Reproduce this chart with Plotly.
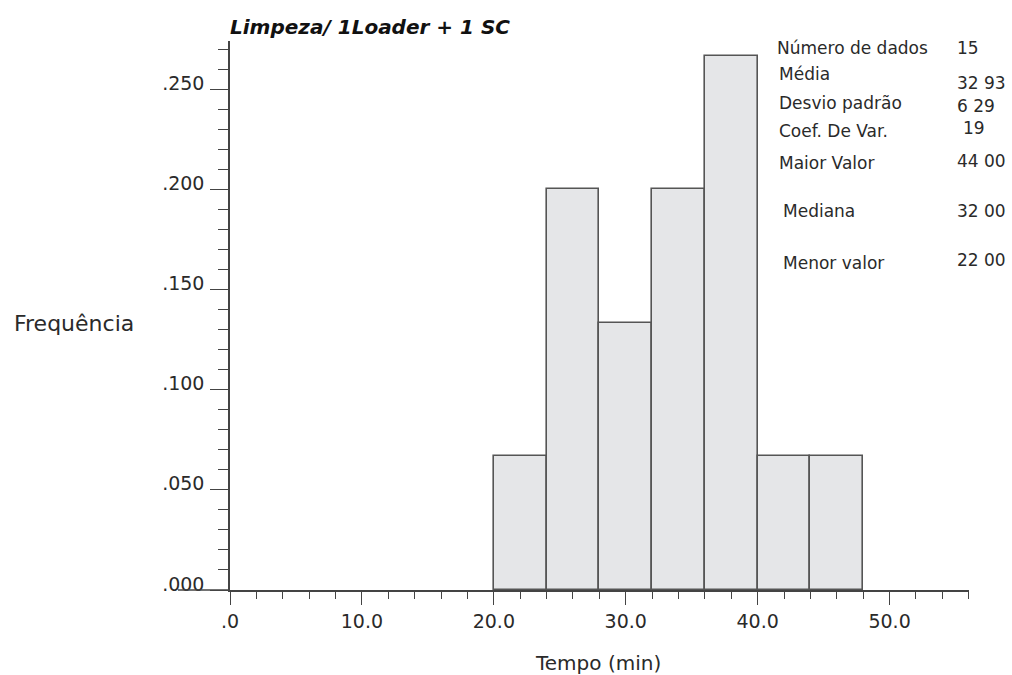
import plotly.graph_objects as go

# Data
bin_centers = [22, 26, 30, 34, 38, 42, 46]
bin_width = 4
frequencies = [0.0667, 0.2000, 0.1333, 0.2000, 0.2667, 0.0667, 0.0667]

x_tick_vals = [0, 10, 20, 30, 40, 50]
x_tick_text = [".0", "10.0", "20.0", "30.0", "40.0", "50.0"]
y_tick_vals = [0, 0.05, 0.10, 0.15, 0.20, 0.25]
y_tick_text = [".000", ".050", ".100", ".150", ".200", ".250"]

stat_labels = ["Número de dados", "Média", "Desvio padrão", "Coef. De Var.",
               "Maior Valor", "Mediana", "Menor valor"]
stat_values = ["15", "32 93", "6 29", "19", "44 00", "32 00", "22 00"]

title_text = "Limpeza/ 1Loader + 1 SC"
x_title = "Tempo (min)"
y_title = "Frequência"

# layout geometry (pixels)
W, H = 1012, 675
L, R, T, B = 230, 969, 41, 590


def xp(px):
    return (px - L) / (R - L)


def yp(py):
    return (B - py) / (B - T)


FONT = "DejaVu Sans, Verdana, sans-serif"
TXT = "#2a2a2a"
AX = "#444444"

fig = go.Figure()
fig.add_trace(go.Bar(
    x=bin_centers, y=frequencies, width=[bin_width] * len(bin_centers),
    marker=dict(color="#e5e6e8", line=dict(color="#555555", width=1.6)),
    showlegend=False, hoverinfo="x+y",
))

fig.update_layout(
    width=W, height=H,
    margin=dict(l=L, r=W - R, t=T, b=H - B, pad=0),
    paper_bgcolor="white", plot_bgcolor="white",
    font=dict(family=FONT, color=TXT, size=18),
    bargap=0,
    xaxis=dict(
        range=[0, 56.02], showgrid=False, zeroline=False,
        showline=True, linecolor=AX, linewidth=1.5,
        ticks="outside", ticklen=13, tickwidth=1.3, tickcolor=AX,
        tickvals=x_tick_vals, ticktext=x_tick_text,
        tickfont=dict(size=19, color=TXT),
        minor=dict(dtick=2, tick0=0, ticks="outside", ticklen=7,
                   tickwidth=1.3, tickcolor=AX, showgrid=False),
    ),
    yaxis=dict(
        range=[0, 0.274], showgrid=False, zeroline=False,
        showline=True, linecolor=AX, linewidth=1.5,
        ticks="outside", ticklen=18, tickwidth=1.3, tickcolor=AX,
        tickvals=y_tick_vals, ticktext=y_tick_text,
        tickfont=dict(size=19, color=TXT),
        ticklabelshift=-6, ticklabelstandoff=2,
        minor=dict(dtick=0.01, tick0=0, ticks="outside", ticklen=10,
                   tickwidth=1.3, tickcolor=AX, showgrid=False),
    ),
)

# x-axis line extends to the left of the y axis
fig.add_shape(type="line", xref="paper", yref="paper",
              x0=xp(178), x1=0, y0=0, y1=0,
              line=dict(color=AX, width=1.5))

ann = []
ann.append(dict(text="<b><i>" + title_text + "</i></b>", x=xp(228), y=yp(27),
                xanchor="left", yanchor="middle",
                font=dict(size=20, color="#111111")))
ann.append(dict(text=x_title, x=xp(598), y=yp(663), xanchor="center",
                yanchor="middle", font=dict(size=20)))
ann.append(dict(text=y_title, x=xp(12), y=yp(323), xanchor="left",
                yanchor="middle", font=dict(size=22)))

label_pos = [(775, 48), (777, 74), (777, 103), (777, 131), (777, 163),
             (781, 211), (781, 263)]
value_pos = [(955, 48), (955, 83), (955, 106), (961, 128), (955, 161),
             (955, 211), (955, 260)]
for lab, val, (lx, ly), (vx, vy) in zip(stat_labels, stat_values, label_pos, value_pos):
    ann.append(dict(text=lab, x=xp(lx), y=yp(ly), xanchor="left",
                    yanchor="middle", font=dict(size=17)))
    ann.append(dict(text=val, x=xp(vx), y=yp(vy), xanchor="left",
                    yanchor="middle", font=dict(size=17)))

for a in ann:
    a.update(xref="paper", yref="paper", showarrow=False)
fig.update_layout(annotations=ann)

fig.write_html("out.html")
